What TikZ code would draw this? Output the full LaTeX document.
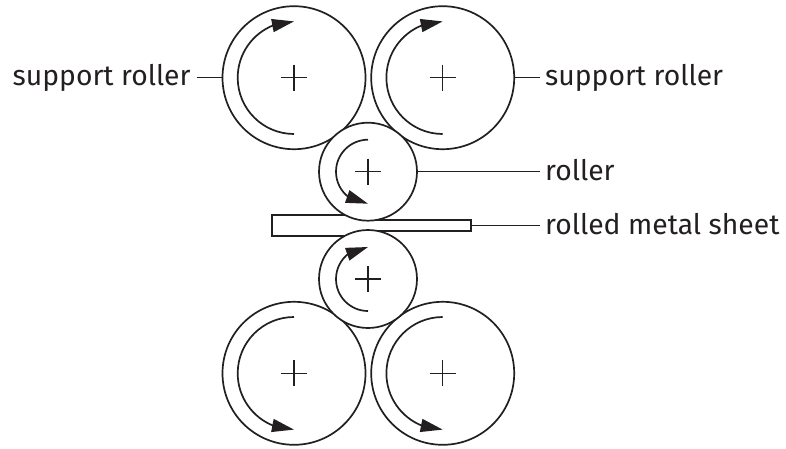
\documentclass[tikz,border=0pt]{standalone}
\usepackage{fontspec}
\setmainfont{Fira Sans}
\usetikzlibrary{arrows.meta,bending,calc}
\definecolor{ink}{HTML}{231F20}
\tikzset{
  x=1pt,y=-1pt,
  roll/.style={circle,draw=ink,line width=1.7pt,inner sep=0pt,fill=white},
  bigroll/.style={roll,minimum size=143pt},
  smallroll/.style={roll,minimum size=98pt},
  centremark/.style={draw=ink,line width=1.3pt},
  turn/.style={draw=ink,line width=1.7pt,-{Triangle[length=22pt,width=13pt,fill=ink]}},
  leader/.style={draw=ink,line width=0.9pt},
  lab/.style={font=\fontsize{28.3}{32}\selectfont,text=ink,inner sep=0pt,anchor=base west},
}
\newcommand{\plusmark}[1]{\draw[centremark] ($(#1)+(-13,0)$) -- ($(#1)+(13,0)$) ($(#1)+(0,-13)$) -- ($(#1)+(0,13)$);}
\begin{document}
\begin{tikzpicture}
\useasboundingbox (0,0) rectangle (786,448);
\draw[draw=ink,line width=1.7pt,fill=white,line join=miter] (271.7,215.3) -- (368,215.3) -- (368,220.3) -- (470.7,220.3) -- (470.7,230.7) -- (368,230.7) -- (368,236) -- (271.7,236) -- cycle;
\node[bigroll] (tl) at (294,77.7) {};
\node[bigroll] (tr) at (442.7,77.7) {};
\node[bigroll] (bl) at (294,373.3) {};
\node[bigroll] (br) at (442.7,373.3) {};
\node[smallroll] (st) at (368,171.7) {};
\node[smallroll] (sb) at (368,279) {};
\coordinate (sheetend) at (470.7,225.7);
\plusmark{tl}\plusmark{tr}\plusmark{bl}\plusmark{br}\plusmark{st}\plusmark{sb}
\draw[turn] (294,134) arc[start angle=90,end angle=270,radius=56.3];
\draw[turn] (442.7,134) arc[start angle=90,end angle=270,radius=56.3];
\draw[turn] (294,317) arc[start angle=270,end angle=90,radius=56.3];
\draw[turn] (442.7,317) arc[start angle=270,end angle=90,radius=56.3];
\draw[turn] (368,139.7) arc[start angle=270,end angle=90,radius=32];
\draw[turn] (368,311) arc[start angle=90,end angle=270,radius=32];
\node[lab] (l1) at (12.5,85) {support roller};
\node[lab] (l2) at (545,85) {support roller};
\node[lab] (l3) at (545,180.7) {roller};
\node[lab] (l4) at (545,234) {rolled metal sheet};
\coordinate (e1) at (196.7,77.7);
\coordinate (e2) at (540,77.7);
\coordinate (e3) at (540,171.7);
\coordinate (e4) at (540,225.7);
\draw[leader] (e1) -- (tl.west);
\draw[leader] (tr.east) -- (e2);
\draw[leader] (st.east) -- (e3);
\draw[leader] (sheetend) -- (e4);
\end{tikzpicture}
\end{document}
